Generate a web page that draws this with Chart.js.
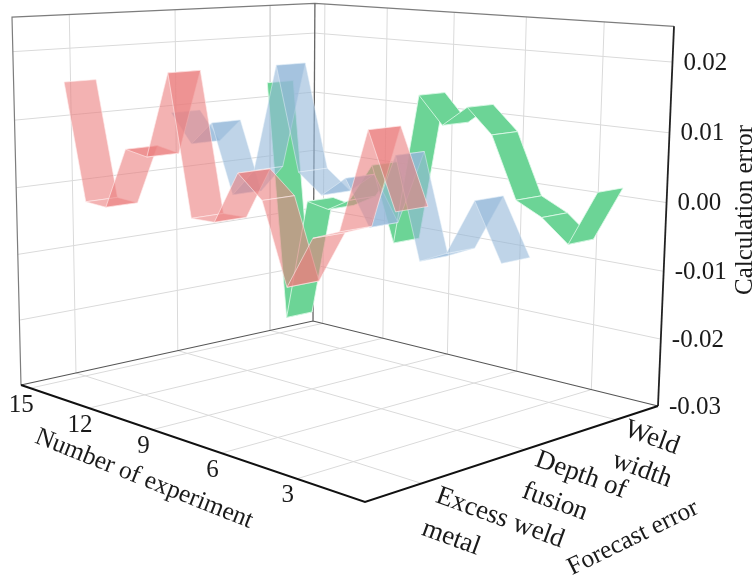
<!DOCTYPE html>
<html>
<head>
<meta charset="utf-8">
<style>
  html, body { margin: 0; background: #fff; }
  #chart { display: block; }
</style>
</head>
<body>
<canvas id="chart" width="755" height="578"></canvas>
<script src="https://cdn.jsdelivr.net/npm/chart.js@4"></script>
<script>
const experiments = [15, 14, 13, 12, 11, 10, 9, 8, 7, 6, 5, 4, 3, 2, 1];
const excessWeldMetal = [0.0153, -0.0020, -0.0022, 0.0068, 0.0062, 0.0184, -0.0013, -0.0012, 0.0061, 0.0030, -0.0079, -0.0007, 0.0008, 0.0142, 0.0046];
const depthOfFusion = [0.0092, 0.0048, 0.0085, -0.0020, 0.0023, 0.0183, 0.0031, 0.0003, 0.0033, -0.0031, 0.0076, -0.0065, -0.0047, 0.0031, -0.0046];
const weldWidth = [0.0126, -0.0260, -0.0059, -0.0066, -0.0045, 0.0016, -0.0100, 0.0133, 0.0092, 0.0123, 0.0087, -0.0003, -0.0022, -0.0054, 0.0026];

const experimentTicks = [15, 12, 9, 6, 3];
const errorTicks = [0.02, 0.01, 0.00, -0.01, -0.02, -0.03];

const EXP_MAX = 15.5, EXP_SPAN = 15;
const ERR_MIN = -0.03, ERR_SPAN = 0.055;

// perspective of the box: floor corners, then the vertical direction
const [x0, y0] = [21, 385], [x1, y1] = [365, 502], [x2, y2] = [658, 406], [x3, y3] = [313, 321];
const det = (x1 - x2) * (y3 - y2) - (x3 - x2) * (y1 - y2);
const sx = x0 - x1 + x2 - x3, sy = y0 - y1 + y2 - y3;
const g = (sx * (y3 - y2) - (x3 - x2) * sy) / det;
const h = ((x1 - x2) * sy - sx * (y1 - y2)) / det;
const a = x1 - x0 + g * x1, b = x3 - x0 + h * x3;
const d = y1 - y0 + g * y1, e = y3 - y0 + h * y3;
const zx = -9.44, zy = -368.6, zw = -0.037;

// u: along experiments, v: along series, w: height
function project(u, v, w) {
  const W = g * u + h * v + 1 + zw * w;
  return {
    x: (a * u + b * v + x0 + zx * w) / W,
    y: (d * u + e * v + y0 + zy * w) / W
  };
}
const expU = n => (EXP_MAX - n) / EXP_SPAN;
const errW = val => (val - ERR_MIN) / ERR_SPAN;

function line(points, color, width) {
  return {
    data: points, borderColor: color, borderWidth: width, backgroundColor: "transparent",
    pointRadius: 0, tension: 0, fill: false, showLine: true
  };
}

const GRID = "#dadada";
const backToFront = [];

/* ===== GRID ===== */
const seriesV = [1 / 6, 1 / 2, 5 / 6];
errorTicks.slice(0, 5).forEach(t => {
  const w = errW(t);
  backToFront.push(line([project(0, 0, w), project(0, 1, w), project(1, 1, w)], GRID, 1));
});
experimentTicks.forEach(n => {
  const u = expU(n);
  backToFront.push(line([project(u, 1, 1), project(u, 1, 0), project(u, 0, 0)], GRID, 1));
});
seriesV.forEach(v => {
  backToFront.push(line([project(0, v, 1), project(0, v, 0), project(1, v, 0)], GRID, 1));
});

/* ===== BOX ===== */
backToFront.push(line([project(0, 0, 0), project(0, 0, 1), project(0, 1, 1), project(1, 1, 1)], "#7d7d7d", 1.2));
backToFront.push(line([project(0, 0, 0), project(0, 1, 0), project(1, 1, 0)], "#555", 1.2));
backToFront.push(line([project(0, 1, 1), project(0, 1, 0)], "#666", 1.3));
backToFront.push(line([project(1, 1, 1), project(1, 1, 0)], "#222", 1.8));
backToFront.push(line([project(0, 0, 0), project(1, 0, 0), project(1, 1, 0)], "#111", 2));

/* ===== RIBBONS ===== */
const HALF_WIDTH = 0.048;
function ribbon(values, v, fillColor, edgeColor) {
  for (let i = 0; i < values.length - 1; i++) {
    const u1 = expU(experiments[i]), u2 = expU(experiments[i + 1]);
    const w1 = errW(values[i]), w2 = errW(values[i + 1]);
    const p = project(u1, v - HALF_WIDTH, w1);
    backToFront.push({
      data: [p, project(u1, v + HALF_WIDTH, w1), project(u2, v + HALF_WIDTH, w2), project(u2, v - HALF_WIDTH, w2), p],
      borderColor: edgeColor, borderWidth: 1, backgroundColor: fillColor,
      pointRadius: 0, tension: 0, fill: "shape", showLine: true
    });
  }
}
ribbon(weldWidth, seriesV[2], "rgb(108,212,150)", "rgba(225,250,235,0.8)");
ribbon(depthOfFusion, seriesV[1], "rgba(148,183,217,0.6)", "rgba(232,242,250,0.5)");
ribbon(excessWeldMetal, seriesV[0], "rgba(235,127,127,0.6)", "rgba(255,236,236,0.6)");

/* ===== TEXT ===== */
const FONT = "'Liberation Serif', serif";
function put(ctx, text, x, y, size, angle, align) {
  ctx.save();
  ctx.translate(x, y);
  ctx.rotate(angle * Math.PI / 180);
  ctx.font = `${size}px ${FONT}`;
  ctx.fillStyle = "#1a1a1a";
  ctx.textAlign = align || "center";
  ctx.textBaseline = "middle";
  ctx.fillText(text, 0, 0);
  ctx.restore();
}
const axisText = {
  id: "axisText",
  afterDraw(chart) {
    const ctx = chart.ctx;
    errorTicks.forEach(t => {
      const p = project(1, 1, errW(t));
      put(ctx, t.toFixed(2), p.x + 11, p.y + 1, 25, 0, "left");
    });
    experimentTicks.forEach(n => {
      const p = project(expU(n), 0, 0);
      put(ctx, String(n), p.x - 9, p.y + 17, 25, 0);
    });
    put(ctx, "Calculation error", 745, 210, 25, -90);
    put(ctx, "Number of experiment", 144, 479, 25.5, 21.7);
    put(ctx, "Excess weld", 500, 518, 27, 20);
    put(ctx, "metal", 451, 538, 27, 20);
    put(ctx, "Depth of", 581, 475, 27, 20);
    put(ctx, "fusion", 555, 502, 27, 20);
    put(ctx, "Weld", 652, 438, 27, 20);
    put(ctx, "width", 642, 470, 27, 20);
    put(ctx, "Forecast error", 633, 538, 25.5, -26);
  }
};

new Chart(document.getElementById("chart"), {
  type: "scatter",
  data: { datasets: backToFront.slice().reverse() }, // chart.js paints the first dataset last
  options: {
    responsive: false,
    animation: false,
    layout: { padding: 0 },
    plugins: { legend: { display: false }, tooltip: { enabled: false } },
    scales: {
      x: { type: "linear", display: false, min: 0, max: 755 },
      y: { type: "linear", display: false, min: 0, max: 578, reverse: true }
    }
  },
  plugins: [axisText]
});
</script>
</body>
</html>
